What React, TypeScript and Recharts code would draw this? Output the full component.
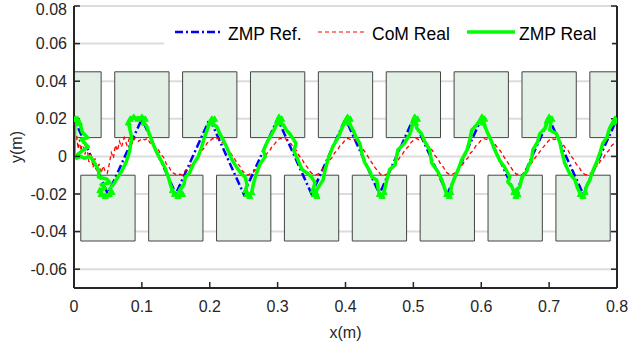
import React from 'react';
import { LineChart, Line, XAxis, YAxis, CartesianGrid, ReferenceArea } from 'recharts';

// ---------- data ----------
const xTicks = [0, 0.1, 0.2, 0.3, 0.4, 0.5, 0.6, 0.7, 0.8];
const yTicks = [-0.06, -0.04, -0.02, 0, 0.02, 0.04, 0.06, 0.08];
const xDomain: [number, number] = [0, 0.8];
const yDomain: [number, number] = [-0.07, 0.08];

const footUpperCenters = [0, 0.1, 0.2, 0.3, 0.4, 0.5, 0.6, 0.7, 0.8];
const footLowerCenters = [0.05, 0.15, 0.25, 0.35, 0.45, 0.55, 0.65, 0.75];
const footHalfLength = 0.04;
const footUpperY: [number, number] = [0.01, 0.045];
const footLowerY: [number, number] = [-0.045, -0.01];

const zmpRef: [number, number][] = [
  [0, 0], [0, 0.02], [0.05, -0.02], [0.1, 0.02], [0.15, -0.02], [0.2, 0.02], [0.25, -0.02],
  [0.3, 0.02], [0.35, -0.02], [0.4, 0.02], [0.45, -0.02], [0.5, 0.02], [0.55, -0.02],
  [0.6, 0.02], [0.65, -0.02], [0.7, 0.02], [0.75, -0.02], [0.8, 0.02],
];

const comReal: [number, number][] = [
  [0.000, 0.000], [0.002, 0.008], [0.004, 0.011], [0.006, 0.004], [0.008, 0.009], [0.010, 0.003],
  [0.013, 0.008], [0.016, 0.001], [0.019, 0.005], [0.022, -0.003], [0.025, 0.002], [0.028, -0.006],
  [0.031, -0.001], [0.034, -0.008], [0.037, -0.004], [0.040, -0.009], [0.043, -0.005], [0.046, -0.008],
  [0.049, -0.009], [0.052, -0.004], [0.055, 0.002], [0.058, -0.001], [0.061, 0.006], [0.064, 0.003],
  [0.067, 0.008], [0.070, 0.005], [0.074, 0.010], [0.078, 0.006], [0.082, 0.010], [0.086, 0.007],
  [0.090, 0.010], [0.095, 0.008],
  [0.100, 0.0095], [0.104, 0.0088], [0.108, 0.0096], [0.112, 0.0072], [0.116, 0.0070], [0.120, 0.0045],
  [0.124, 0.0038], [0.128, 0.0010], [0.132, -0.0005], [0.136, -0.0040], [0.140, -0.0055], [0.144, -0.0085],
  [0.148, -0.0092], [0.152, -0.0100], [0.156, -0.0094], [0.160, -0.0098],
  [0.164, -0.0075], [0.168, -0.0068], [0.172, -0.0045], [0.176, -0.0035], [0.180, -0.0010], [0.184, 0.0005],
  [0.188, 0.0030], [0.192, 0.0045], [0.196, 0.0070], [0.200, 0.0082], [0.204, 0.0095], [0.208, 0.0090], [0.212, 0.0097],
  [0.216, 0.0080], [0.220, 0.0072], [0.224, 0.0048], [0.228, 0.0035], [0.232, 0.0010], [0.236, -0.0008],
  [0.240, -0.0035], [0.244, -0.0050], [0.248, -0.0078], [0.252, -0.0090], [0.256, -0.0099], [0.260, -0.0092],
  [0.264, -0.0085], [0.268, -0.0062], [0.272, -0.0050], [0.276, -0.0025], [0.280, -0.0012], [0.284, 0.0015],
  [0.288, 0.0028], [0.292, 0.0055], [0.296, 0.0068], [0.300, 0.0088], [0.304, 0.0096], [0.308, 0.0090], [0.312, 0.0094],
  [0.316, 0.0075], [0.320, 0.0066], [0.324, 0.0042], [0.328, 0.0030], [0.332, 0.0002], [0.336, -0.0015],
  [0.340, -0.0042], [0.344, -0.0058], [0.348, -0.0082], [0.352, -0.0095], [0.356, -0.0098], [0.360, -0.0093],
  [0.364, -0.0080], [0.368, -0.0060], [0.372, -0.0046], [0.376, -0.0022], [0.380, -0.0008], [0.384, 0.0020],
  [0.388, 0.0032], [0.392, 0.0058], [0.396, 0.0070], [0.400, 0.0090], [0.404, 0.0095], [0.408, 0.0088], [0.412, 0.0093],
  [0.416, 0.0078], [0.420, 0.0064], [0.424, 0.0045], [0.428, 0.0028], [0.432, 0.0005], [0.436, -0.0018],
  [0.440, -0.0040], [0.444, -0.0062], [0.448, -0.0080], [0.452, -0.0097], [0.456, -0.0094], [0.460, -0.0099],
  [0.464, -0.0078], [0.468, -0.0066], [0.472, -0.0042], [0.476, -0.0030], [0.480, -0.0005], [0.484, 0.0012],
  [0.488, 0.0036], [0.492, 0.0050], [0.496, 0.0072], [0.500, 0.0085], [0.504, 0.0097], [0.508, 0.0089], [0.512, 0.0095],
  [0.516, 0.0076], [0.520, 0.0068], [0.524, 0.0044], [0.528, 0.0032], [0.532, 0.0004], [0.536, -0.0012],
  [0.540, -0.0040], [0.544, -0.0056], [0.548, -0.0083], [0.552, -0.0093], [0.556, -0.0099], [0.560, -0.0090],
  [0.564, -0.0082], [0.568, -0.0058], [0.572, -0.0048], [0.576, -0.0020], [0.580, -0.0010], [0.584, 0.0018],
  [0.588, 0.0030], [0.592, 0.0056], [0.596, 0.0069], [0.600, 0.0088], [0.604, 0.0094], [0.608, 0.0091], [0.612, 0.0096],
  [0.616, 0.0079], [0.620, 0.0065], [0.624, 0.0046], [0.628, 0.0030], [0.632, 0.0006], [0.636, -0.0016],
  [0.640, -0.0038], [0.644, -0.0060], [0.648, -0.0081], [0.652, -0.0096], [0.656, -0.0092], [0.660, -0.0098],
  [0.664, -0.0079], [0.668, -0.0064], [0.672, -0.0043], [0.676, -0.0028], [0.680, -0.0004], [0.684, 0.0014],
  [0.688, 0.0034], [0.692, 0.0052], [0.696, 0.0071], [0.700, 0.0086], [0.704, 0.0096], [0.708, 0.0090], [0.712, 0.0094],
  [0.716, 0.0077], [0.720, 0.0067], [0.724, 0.0043], [0.728, 0.0031], [0.732, 0.0003], [0.736, -0.0014],
  [0.740, -0.0041], [0.744, -0.0057], [0.748, -0.0082], [0.752, -0.0094], [0.756, -0.0098], [0.760, -0.0091],
  [0.764, -0.0081], [0.768, -0.0059], [0.772, -0.0047], [0.776, -0.0021], [0.780, -0.0009], [0.784, 0.0019],
  [0.788, 0.0031], [0.792, 0.0057], [0.796, 0.0070], [0.800, 0.0085],
];

const zmpReal: [number, number][] = [
  [0.000, 0.000], [0.001, 0.014], [0.002, 0.020], [0.005, 0.020], [0.008, 0.018], [0.004, 0.017],
  [0.006, 0.019], [0.010, 0.016], [0.012, 0.013], [0.020, 0.010], [0.011, 0.009], [0.016, 0.007],
  [0.021, 0.005], [0.012, 0.003], [0.005, 0.001], [0.004, -0.001], [0.010, 0.000], [0.015, -0.001],
  [0.024, 0.000], [0.031, -0.004], [0.037, -0.008], [0.036, -0.011], [0.048, -0.012], [0.053, -0.014],
  [0.040, -0.015], [0.046, -0.017], [0.038, -0.018], [0.040, -0.020], [0.046, -0.021], [0.052, -0.020],
  [0.056, -0.019], [0.053, -0.017],
  [0.058, -0.015], [0.063, -0.012], [0.070, -0.008], [0.077, -0.003], [0.082, 0.003], [0.085, 0.010],
  [0.082, 0.015], [0.080, 0.018], [0.083, 0.020], [0.088, 0.021], [0.094, 0.020], [0.100, 0.021],
  [0.105, 0.020], [0.103, 0.018],
  [0.107, 0.016], [0.111, 0.012], [0.116, 0.007], [0.122, 0.002], [0.128, -0.002], [0.134, -0.006],
  [0.139, -0.011], [0.142, -0.015], [0.145, -0.018], [0.148, -0.020], [0.153, -0.021], [0.160, -0.020],
  [0.156, -0.018],
  [0.162, -0.015], [0.164, -0.011], [0.170, -0.009], [0.176, -0.004], [0.183, 0.000], [0.188, 0.005],
  [0.192, 0.010], [0.196, 0.014], [0.200, 0.018], [0.203, 0.020], [0.207, 0.020], [0.204, 0.017],
  [0.210, 0.016], [0.215, 0.012], [0.221, 0.008], [0.226, 0.004], [0.233, -0.002], [0.240, -0.006],
  [0.246, -0.009], [0.252, -0.011], [0.255, -0.015], [0.253, -0.018], [0.255, -0.020], [0.259, -0.021],
  [0.262, -0.019],
  [0.264, -0.015], [0.268, -0.010], [0.274, -0.004], [0.282, 0.000], [0.279, 0.003], [0.285, 0.008],
  [0.290, 0.011], [0.296, 0.015], [0.300, 0.019], [0.302, 0.021], [0.306, 0.020], [0.303, 0.018],
  [0.308, 0.017], [0.313, 0.014], [0.318, 0.012], [0.327, 0.007], [0.324, 0.003], [0.330, -0.002],
  [0.336, -0.007], [0.344, -0.009], [0.350, -0.011], [0.355, -0.014], [0.352, -0.018], [0.354, -0.020],
  [0.358, -0.021], [0.356, -0.019],
  [0.359, -0.017], [0.367, -0.0125], [0.370, -0.007], [0.374, -0.002], [0.381, 0.005], [0.389, 0.010],
  [0.396, 0.016], [0.400, 0.019], [0.403, 0.021], [0.407, 0.020], [0.405, 0.018],
  [0.411, 0.014], [0.416, 0.010], [0.421, 0.007], [0.424, 0.002], [0.428, -0.003], [0.436, -0.008],
  [0.439, -0.011], [0.446, -0.0125], [0.448, -0.017], [0.450, -0.020], [0.454, -0.021], [0.457, -0.019],
  [0.458, -0.017], [0.461, -0.0125], [0.465, -0.007], [0.473, -0.0045], [0.477, 0.0034], [0.487, 0.007],
  [0.495, 0.012], [0.498, 0.016], [0.500, 0.019], [0.502, 0.021], [0.506, 0.020], [0.503, 0.018],
  [0.505, 0.015], [0.512, 0.012], [0.517, 0.0077], [0.524, 0.0034], [0.527, -0.0035], [0.536, -0.008],
  [0.542, -0.0125], [0.546, -0.017], [0.549, -0.020], [0.553, -0.021], [0.555, -0.019],
  [0.556, -0.016], [0.561, -0.011], [0.566, -0.007], [0.571, -0.002], [0.579, 0.0034], [0.583, 0.0087],
  [0.586, 0.014], [0.593, 0.0167], [0.598, 0.019], [0.601, 0.021], [0.605, 0.020], [0.603, 0.018],
  [0.610, 0.012], [0.615, 0.008], [0.620, 0.0034], [0.627, -0.002], [0.635, -0.006], [0.642, -0.011],
  [0.639, -0.0135], [0.645, -0.016], [0.648, -0.019], [0.651, -0.021], [0.654, -0.020], [0.652, -0.018],
  [0.657, -0.016], [0.660, -0.011], [0.667, -0.008], [0.669, -0.0055], [0.674, -0.002], [0.676, 0.0034],
  [0.683, 0.0077], [0.686, 0.012], [0.694, 0.015], [0.697, 0.019], [0.700, 0.021], [0.704, 0.020],
  [0.702, 0.017],
  [0.701, 0.014], [0.711, 0.012], [0.716, 0.007], [0.719, 0.002], [0.723, -0.0035], [0.730, -0.009],
  [0.738, -0.0125], [0.742, -0.017], [0.746, -0.020], [0.750, -0.021], [0.753, -0.019],
  [0.755, -0.016], [0.760, -0.0125], [0.764, -0.008], [0.770, -0.003], [0.775, 0.002], [0.779, 0.007],
  [0.785, 0.010], [0.789, 0.015], [0.794, 0.018], [0.797, 0.020], [0.800, 0.019],
];

const legendLabels = ['ZMP Ref.', 'CoM Real', 'ZMP Real'];

// ---------- styles ----------
const FONT = '"Liberation Sans", Arial, Helvetica, sans-serif';
const AXIS = '#262626';
const toRows = (pts: [number, number][]) => pts.map(([x, y]) => ({ x, y }));

const zmpRefRows = toRows(zmpRef);
const comRows = toRows(comReal);
const zmpRealRows = toRows(zmpReal);

const fmtY = (v: number) => (Math.abs(v) < 1e-9 ? '0' : v.toFixed(2));
const fmtX = (v: number) => (Math.abs(v) < 1e-9 ? '0' : v.toFixed(1));
const blank = () => '';

const GreenMarker = (props: any) => {
  const { cx, cy, payload, index } = props;
  if (cx == null || cy == null || Math.abs(payload.y) < 0.0175) return <g key={`m${index}`} />;
  return (
    <polygon
      key={`m${index}`}
      points={`${cx},${cy - 3} ${cx - 3},${cy + 2.5} ${cx + 3},${cy + 2.5}`}
      fill="#00ff00"
      stroke="#00ff00"
      strokeWidth={1}
    />
  );
};

const tickStyle = { fill: AXIS, fontSize: 16, fontFamily: FONT };
const axisLineStyle = { stroke: AXIS, strokeWidth: 2 };
const tickLineStyle = { stroke: AXIS, strokeWidth: 1.5 };

const Legend = () => (
  <div
    style={{
      position: 'absolute',
      left: 164,
      top: 18,
      width: 448,
      height: 31,
      background: '#ffffff',
    }}
  >
    <svg width={448} height={31} style={{ display: 'block' }}>
      <line x1={11} y1={14} x2={59} y2={14} stroke="#0000ff" strokeWidth={2.5} strokeDasharray="8 3 2 3" />
      <text x={64} y={22} fontSize={17.5} fontFamily={FONT} fill="#000">{legendLabels[0]}</text>
      <line x1={154} y1={14} x2={203} y2={14} stroke="#ff0000" strokeWidth={1.2} strokeDasharray="4 3" />
      <text x={208} y={22} fontSize={17.5} fontFamily={FONT} fill="#000">{legendLabels[1]}</text>
      <line x1={303} y1={14} x2={351} y2={14} stroke="#00ff00" strokeWidth={3.5} />
      <text x={355} y={22} fontSize={17.5} fontFamily={FONT} fill="#000">{legendLabels[2]}</text>
    </svg>
  </div>
);

export default function App() {
  return (
    <div style={{ position: 'absolute', left: 0, top: 0, width: 630, height: 346, background: '#fff' }}>
      <LineChart width={630} height={346} margin={{ top: 6, right: 0, bottom: 0, left: 0 }}>
        <CartesianGrid vertical={false} stroke="#dcdcdc" strokeWidth={2} />
        {footUpperCenters.map((c, i) => (
          <ReferenceArea
            key={`u${i}`}
            x1={c - footHalfLength}
            x2={c + footHalfLength}
            y1={footUpperY[0]}
            y2={footUpperY[1]}
            fill="#e2efe4"
            fillOpacity={1}
            stroke="#444"
            strokeWidth={1}
            ifOverflow="hidden"
          />
        ))}
        {footLowerCenters.map((c, i) => (
          <ReferenceArea
            key={`l${i}`}
            x1={c - footHalfLength}
            x2={c + footHalfLength}
            y1={footLowerY[0]}
            y2={footLowerY[1]}
            fill="#e2efe4"
            fillOpacity={1}
            stroke="#444"
            strokeWidth={1}
            ifOverflow="hidden"
          />
        ))}
        <Line
          data={zmpRefRows}
          dataKey="y"
          type="linear"
          stroke="#0000ff"
          strokeWidth={2.5}
          strokeDasharray="8 3 2 3"
          dot={false}
          activeDot={false}
          isAnimationActive={false}
        />
        <Line
          data={comRows}
          dataKey="y"
          type="linear"
          stroke="#ff0000"
          strokeWidth={1.3}
          strokeDasharray="4 3"
          dot={false}
          activeDot={false}
          isAnimationActive={false}
        />
        <Line
          data={zmpRealRows}
          dataKey="y"
          type="linear"
          stroke="#00ff00"
          strokeWidth={3.5}
          strokeLinejoin="round"
          dot={GreenMarker}
          activeDot={false}
          isAnimationActive={false}
        />
        <XAxis
          dataKey="x"
          type="number"
          domain={xDomain}
          ticks={xTicks}
          tickFormatter={fmtX}
          height={58}
          tick={tickStyle}
          tickSize={-6}
          tickMargin={19}
          axisLine={axisLineStyle}
          tickLine={tickLineStyle}
          allowDataOverflow
          label={(p: any) => {
            const vb = p.viewBox || { x: 74, y: 288, width: 543 };
            return (
              <text x={vb.x + vb.width / 2} y={vb.y + 50} textAnchor="middle" fontSize={16} fontFamily={FONT} fill={AXIS}>
                x(m)
              </text>
            );
          }}
        />
        <XAxis
          xAxisId="top"
          orientation="top"
          dataKey="x"
          type="number"
          domain={xDomain}
          ticks={xTicks}
          tickFormatter={blank}
          height={0}
          tickSize={-6}
          axisLine={axisLineStyle}
          tickLine={tickLineStyle}
          allowDataOverflow
        />
        <YAxis
          type="number"
          domain={yDomain}
          ticks={yTicks}
          tickFormatter={fmtY}
          width={74}
          tick={tickStyle}
          tickSize={-6}
          tickMargin={13}
          axisLine={axisLineStyle}
          tickLine={tickLineStyle}
          allowDataOverflow
          label={(p: any) => {
            const vb = p.viewBox || { x: 0, y: 6, height: 282 };
            const cx = vb.x + 22;
            const cy = vb.y + vb.height / 2;
            return (
              <text x={cx} y={cy} transform={`rotate(-90, ${cx}, ${cy})`} textAnchor="middle" fontSize={16} fontFamily={FONT} fill={AXIS}>
                y(m)
              </text>
            );
          }}
        />
        <YAxis
          yAxisId="right"
          orientation="right"
          type="number"
          domain={yDomain}
          ticks={yTicks}
          tickFormatter={blank}
          width={13}
          tickSize={-6}
          axisLine={axisLineStyle}
          tickLine={tickLineStyle}
          allowDataOverflow
        />
      </LineChart>
      <Legend />
    </div>
  );
}
